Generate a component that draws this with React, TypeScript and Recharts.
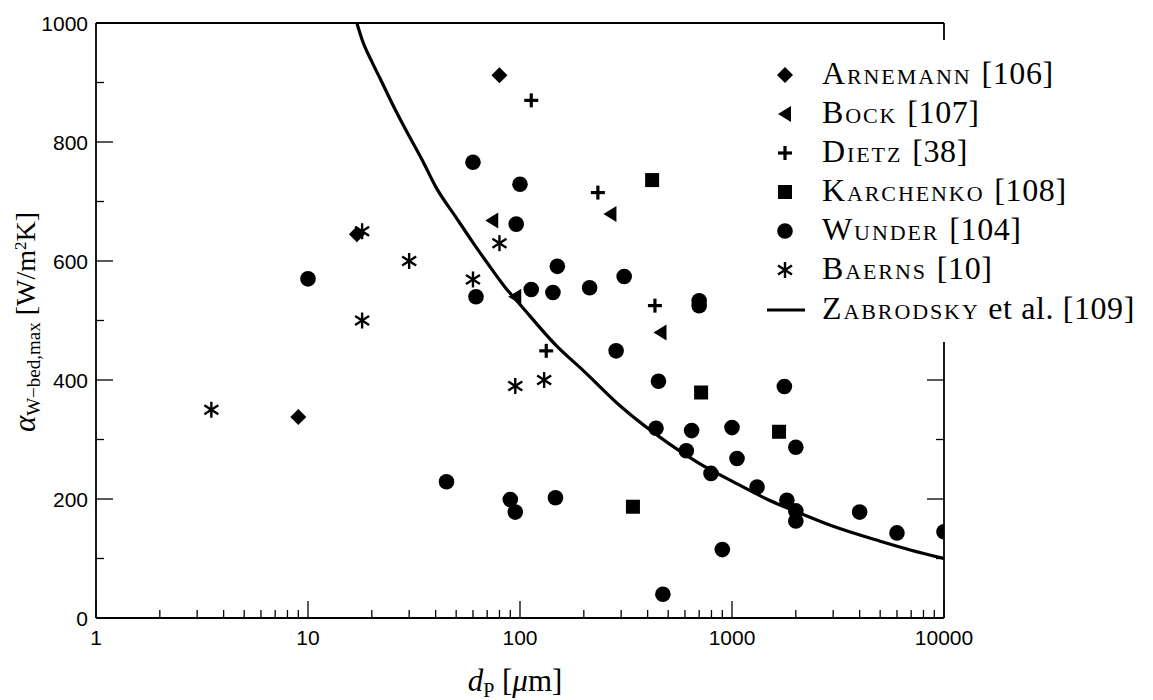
import React from 'react';
import { ScatterChart, Scatter, XAxis, YAxis, Legend } from 'recharts';

// ---- data (d_P in µm, alpha in W/m²K) ----
const arnemannD = [9, 17, 80];
const arnemannA = [338, 645, 912];

const bockD = [74, 95, 267, 460];
const bockA = [668, 540, 679, 480];

const dietzD = [113, 233, 433, 133];
const dietzA = [870, 715, 525, 449];

const karchenkoD = [420, 715, 1667, 341];
const karchenkoA = [736, 379, 313, 187];

const wunderD = [10, 45, 60, 100, 96, 150, 62, 113, 143, 213, 310, 700, 700, 284, 450, 438, 645, 609, 796, 90, 95, 147, 472, 1766, 1000, 2000, 1056, 1313, 1815, 2000, 2000, 900, 4000, 6000, 10000];
const wunderA = [570, 229, 766, 729, 662, 591, 540, 552, 547, 555, 574, 533, 525, 449, 398, 319, 315, 281, 243, 199, 178, 202, 40, 389, 320, 287, 268, 220, 198, 180, 163, 115, 178, 143, 145];

const baernsD = [3.5, 18, 18, 30, 60, 80, 95, 130];
const baernsA = [350, 650, 500, 600, 569, 630, 390, 400];

const zabD = [17, 18, 20, 22, 25, 30, 35, 40, 50, 60, 70, 85, 100, 150, 200, 300, 500, 700, 1000, 1500, 2000, 3000, 5000, 7000, 10000];
const zabA = [1000, 972, 935, 905, 864, 810, 766, 725, 673, 631, 597, 556, 527, 456, 415, 355, 294, 260, 230, 198, 179, 154, 129, 114, 100];

const xMajorTicks = [1, 10, 100, 1000, 10000];
const xMinorTicks = [2, 3, 4, 5, 6, 7, 8, 9, 20, 30, 40, 50, 60, 70, 80, 90, 200, 300, 400, 500, 600, 700, 800, 900, 2000, 3000, 4000, 5000, 6000, 7000, 8000, 9000];
const yTicks = [0, 100, 200, 300, 400, 500, 600, 700, 800, 900, 1000];
const yLabeledTicks = [0, 200, 400, 600, 800, 1000];

const legendNames = ['Arnemann', 'Bock', 'Dietz', 'Karchenko', 'Wunder', 'Baerns'];
const legendRefs = ['[106]', '[107]', '[38]', '[108]', '[104]', '[10]'];
const lineLegendName = 'Zabrodsky';
const lineLegendSuffix = ' et al. [109]';

const zip = (ds: number[], as: number[]) => ds.map((d, i) => ({ d, a: as[i] }));
const arnemann = zip(arnemannD, arnemannA);
const bock = zip(bockD, bockA);
const dietz = zip(dietzD, dietzA);
const karchenko = zip(karchenkoD, karchenkoA);
const wunder = zip(wunderD, wunderA);
const baerns = zip(baernsD, baernsA);
const zab = zip(zabD, zabA);
const xTicks = [...xMajorTicks, ...xMinorTicks].sort((a, b) => a - b);

// ---- marker shapes ----
const Diamond = ({ cx, cy }: any) => (
  <path d={`M${cx},${cy - 8} L${cx + 8},${cy} L${cx},${cy + 8} L${cx - 8},${cy} Z`} fill="#000" />
);
const TriLeft = ({ cx, cy }: any) => (
  <path d={`M${cx - 7},${cy} L${cx + 6},${cy - 8} L${cx + 6},${cy + 8} Z`} fill="#000" />
);
const Plus = ({ cx, cy }: any) => (
  <g stroke="#000" strokeWidth={3.2}>
    <line x1={cx - 7} x2={cx + 7} y1={cy} y2={cy} />
    <line x1={cx} x2={cx} y1={cy - 7} y2={cy + 7} />
  </g>
);
const Square = ({ cx, cy }: any) => <rect x={cx - 7} y={cy - 7} width={14} height={14} fill="#000" />;
const Dot = ({ cx, cy }: any) => <circle cx={cx} cy={cy} r={7.8} fill="#000" />;
const Star = ({ cx, cy }: any) => (
  <g stroke="#000" strokeWidth={2.4}>
    <line x1={cx} x2={cx} y1={cy - 8} y2={cy + 8} />
    <line x1={cx - 7} x2={cx + 7} y1={cy - 4.5} y2={cy + 4.5} />
    <line x1={cx - 7} x2={cx + 7} y1={cy + 4.5} y2={cy - 4.5} />
  </g>
);
const NoShape = () => <g />;

const legendShapes = [Diamond, TriLeft, Plus, Square, Dot, Star];

// ---- ticks ----
const tickFont = '"Liberation Sans", Arial, Helvetica, sans-serif';
const BottomTick = ({ x, y, payload }: any) => {
  const major = xMajorTicks.includes(payload.value);
  return (
    <g>
      <line x1={x} x2={x} y1={y} y2={y - (major ? 17 : 8)} stroke="#000" strokeWidth={1.3} />
      {major && (
        <text x={x} y={y + 27} textAnchor="middle" fontFamily={tickFont} fontSize={21} fill="#000">
          {payload.value}
        </text>
      )}
    </g>
  );
};
const TopTick = ({ x, y, payload }: any) => {
  const major = xMajorTicks.includes(payload.value);
  return <line x1={x} x2={x} y1={y} y2={y + (major ? 17 : 8)} stroke="#000" strokeWidth={1.3} />;
};
const LeftTick = ({ x, y, payload }: any) => {
  const major = yLabeledTicks.includes(payload.value);
  return (
    <g>
      <line x1={x} x2={x + (major ? 17 : 8)} y1={y} y2={y} stroke="#000" strokeWidth={1.3} />
      {major && (
        <text x={x - 8} y={y + 7.5} textAnchor="end" fontFamily={tickFont} fontSize={21} fill="#000">
          {payload.value}
        </text>
      )}
    </g>
  );
};
const RightTick = ({ x, y, payload }: any) => {
  const major = yLabeledTicks.includes(payload.value);
  return <line x1={x} x2={x - (major ? 17 : 8)} y1={y} y2={y} stroke="#000" strokeWidth={1.3} />;
};

const serif = '"Liberation Serif", "Times New Roman", serif';

const YTitle = () => (
  <text
    x={27}
    y={314}
    transform="rotate(-90, 27, 314)"
    textAnchor="middle"
    fontFamily={serif}
    fontSize={28}
    fill="#000"
  >
    <tspan fontStyle="italic" fontSize={31}>α</tspan>
    <tspan fontSize={19} dy={5}>W−bed,max</tspan>
    <tspan dy={-5}>{'  [W/m'}</tspan>
    <tspan fontSize={17} dy={-9}>2</tspan>
    <tspan dy={9}>K]</tspan>
  </text>
);

const XTitle = () => (
  <text x={507} y={683} textAnchor="middle" fontFamily={serif} fontSize={31} fill="#000">
    <tspan fontStyle="italic">d</tspan>
    <tspan fontSize={20} dy={6}>P</tspan>
    <tspan dy={-6}>{'  ['}</tspan>
    <tspan fontStyle="italic">μ</tspan>
    <tspan>m]</tspan>
  </text>
);

const legendTextStyle: React.CSSProperties = {
  fontFamily: serif,
  fontSize: 32,
  fontVariant: 'small-caps',
  letterSpacing: 1.9,
  color: '#000',
  whiteSpace: 'nowrap',
  lineHeight: '40px',
};

const LegendContent = () => (
  <div style={{ position: 'relative', width: 403, height: 302, background: '#fff' }}>
    {legendNames.map((name, i) => {
      const Shape = legendShapes[i];
      const top = 35 + i * 39 - 20;
      return (
        <div key={name} style={{ position: 'absolute', left: 0, top, height: 40, width: 403 }}>
          <svg width={60} height={40} style={{ position: 'absolute', left: 5, top: 0 }}>
            <Shape cx={30} cy={20} />
          </svg>
          <span style={{ ...legendTextStyle, position: 'absolute', left: 72, top: -2 }}>
            {name} <span style={{ fontVariant: 'normal', letterSpacing: 0.6 }}>{legendRefs[i]}</span>
          </span>
        </div>
      );
    })}
    <div style={{ position: 'absolute', left: 0, top: 270 - 20, height: 40, width: 403 }}>
      <svg width={60} height={40} style={{ position: 'absolute', left: 5, top: 0 }}>
        <line x1={12} x2={50} y1={20} y2={20} stroke="#000" strokeWidth={3} />
      </svg>
      <span style={{ ...legendTextStyle, position: 'absolute', left: 72, top: -2 }}>
        {lineLegendName}
        <span style={{ fontVariant: 'normal', letterSpacing: 0.6 }}>{lineLegendSuffix}</span>
      </span>
    </div>
  </div>
);

export default function App() {
  return (
    <ScatterChart
      width={1145}
      height={692}
      margin={{ top: 14, right: 208, bottom: 0, left: 0 }}
      style={{ background: '#fff' }}
    >
      <XAxis
        xAxisId="main"
        dataKey="d"
        type="number"
        scale="log"
        domain={[1, 10000]}
        allowDataOverflow
        ticks={xTicks}
        interval={0}
        tickSize={0}
        tickMargin={0}
        tick={BottomTick}
        height={82}
        axisLine={{ stroke: '#000', strokeWidth: 1.8 }}
        label={{ content: XTitle }}
      />
      <XAxis
        xAxisId="top"
        orientation="top"
        type="number"
        scale="log"
        domain={[1, 10000]}
        allowDataOverflow
        ticks={xTicks}
        interval={0}
        tickSize={0}
        tickMargin={0}
        tick={TopTick}
        height={1}
        axisLine={{ stroke: '#000', strokeWidth: 1.8 }}
      />
      <YAxis
        yAxisId="left"
        dataKey="a"
        type="number"
        domain={[0, 1000]}
        allowDataOverflow
        ticks={yTicks}
        interval={0}
        tickSize={0}
        tickMargin={0}
        tick={LeftTick}
        width={88}
        axisLine={{ stroke: '#000', strokeWidth: 1.8 }}
        label={{ content: YTitle }}
      />
      <YAxis
        yAxisId="right"
        orientation="right"
        type="number"
        domain={[0, 1000]}
        allowDataOverflow
        ticks={yTicks}
        interval={0}
        tickSize={0}
        tickMargin={0}
        tick={RightTick}
        width={1}
        axisLine={{ stroke: '#000', strokeWidth: 1.8 }}
      />
      <Scatter
        name="Zabrodsky"
        data={zab}
        xAxisId="main"
        yAxisId="left"
        line={{ stroke: '#000', strokeWidth: 3.2 }}
        lineJointType="monotoneX"
        shape={NoShape}
        isAnimationActive={false}
      />
      <Scatter name="Arnemann" data={arnemann} xAxisId="main" yAxisId="left" shape={Diamond} isAnimationActive={false} />
      <Scatter name="Bock" data={bock} xAxisId="main" yAxisId="left" shape={TriLeft} isAnimationActive={false} />
      <Scatter name="Dietz" data={dietz} xAxisId="main" yAxisId="left" shape={Plus} isAnimationActive={false} />
      <Scatter name="Karchenko" data={karchenko} xAxisId="main" yAxisId="left" shape={Square} isAnimationActive={false} />
      <Scatter name="Wunder" data={wunder} xAxisId="main" yAxisId="left" shape={Dot} isAnimationActive={false} />
      <Scatter name="Baerns" data={baerns} xAxisId="main" yAxisId="left" shape={Star} isAnimationActive={false} />
      <Legend
        layout="vertical"
        align="center"
        verticalAlign="middle"
        wrapperStyle={{ left: 742, top: 32, width: 403, height: 302 }}
        content={LegendContent}
      />
    </ScatterChart>
  );
}
